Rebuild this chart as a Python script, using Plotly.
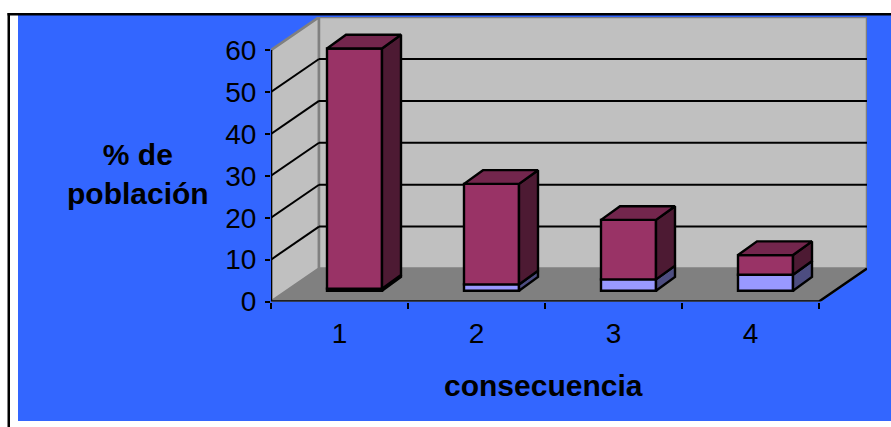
import plotly.graph_objects as go

# Survey results by consequence, stacked in two series
categories = [1, 2, 3, 4]
lower_series = [0.5, 1.5, 2.7, 3.8]
upper_series = [57.3, 24.0, 14.2, 4.7]
y_ticks = [0, 10, 20, 30, 40, 50, 60]

W, H = 891, 427

# Pixel frame of the front plane and the oblique projection of the chart box
LEFT, RIGHT_BACK, BOTTOM, TOP_BACK = 271, 867, 301.5, 17
PX_PER_CAT, PX_PER_VAL = 137.0, 4.19
x_min = 0.5
x_max = 4.5
y_max = 60
box_dx, box_dy = 48 / PX_PER_CAT, 33 / PX_PER_VAL
bar_dx, bar_dy = 19 / PX_PER_CAT, 13.7 / PX_PER_VAL
gap_dx, gap_dy = 15 / PX_PER_CAT, 10.8 / PX_PER_VAL
bar_w = 55 / PX_PER_CAT

MAROON, MAROON_SIDE, MAROON_TOP = "#993366", "#4d1a33", "#73264d"
LILAC, LILAC_SIDE = "#9999ff", "#4d4d80"
BLUE, WALL, FLOOR, EDGE = "#3366ff", "#c0c0c0", "#808080", "#808080"
OUTLINE = 2.4

fig = go.Figure()


def polygon(points):
    return "M" + " L".join(f"{x},{y}" for x, y in points) + " Z"


def wall(points, fill, edge=EDGE, width=2.5):
    return dict(type="path", path=polygon(points), xref="x", yref="y", fillcolor=fill,
                line=dict(color=edge, width=width), layer="below")


def rule(x0, y0, x1, y1, color="black", width=2):
    return dict(type="line", x0=x0, y0=y0, x1=x1, y1=y1, xref="x", yref="y",
                line=dict(color=color, width=width), layer="below")


def paper_rect(x0, y0, x1, y1, color):
    return dict(type="rect", xref="paper", yref="paper", x0=x0 / W, x1=x1 / W,
                y0=1 - y1 / H, y1=1 - y0 / H, fillcolor=color, line_width=0, layer="below")


shapes = [
    paper_rect(18, 15, W, 421, BLUE),
    paper_rect(7.5, 13, W, 15.5, "black"),
    paper_rect(7.5, 13, 10, H, "black"),
    wall([(x_min, 0), (x_max, 0), (x_max + box_dx, box_dy), (x_min + box_dx, box_dy)], FLOOR),
    wall([(x_min, 0), (x_min, y_max), (x_min + box_dx, y_max + box_dy), (x_min + box_dx, box_dy)], WALL),
    wall([(x_min + box_dx, box_dy), (x_min + box_dx, y_max + box_dy),
          (x_max + box_dx, y_max + box_dy), (x_max + box_dx, box_dy)], WALL),
]
for v in y_ticks[1:-1]:
    shapes.append(rule(x_min, v, x_min + box_dx, v + box_dy))
    shapes.append(rule(x_min + box_dx, v + box_dy, x_max + box_dx, v + box_dy))

# Front faces of both stacked series, lifted off the front edge of the floor
bar_x = [c + gap_dx for c in categories]
fig.add_bar(x=bar_x, y=lower_series, base=[gap_dy] * 4, width=bar_w,
            marker=dict(color=LILAC, line=dict(color="black", width=OUTLINE)),
            hoverinfo="skip", showlegend=False)
fig.add_bar(x=bar_x, y=upper_series, base=[gap_dy + v for v in lower_series], width=bar_w,
            marker=dict(color=MAROON, line=dict(color="black", width=OUTLINE)),
            hoverinfo="skip", showlegend=False)


def face(points, fill):
    xs, ys = zip(*points)
    fig.add_scatter(x=list(xs) + [xs[0]], y=list(ys) + [ys[0]], mode="lines", fill="toself",
                    fillcolor=fill, line=dict(color="black", width=OUTLINE), cliponaxis=False,
                    hoverinfo="skip", showlegend=False)


# Side and top faces derived from the same values as the fronts
for cx, low, up in zip(bar_x, lower_series, upper_series):
    xr = cx + bar_w / 2
    xl = cx - bar_w / 2
    y0 = gap_dy
    y1 = gap_dy + low
    y2 = y1 + up
    face([(xr, y0), (xr + bar_dx, y0 + bar_dy), (xr + bar_dx, y1 + bar_dy), (xr, y1)], LILAC_SIDE)
    face([(xr, y1), (xr + bar_dx, y1 + bar_dy), (xr + bar_dx, y2 + bar_dy), (xr, y2)], MAROON_SIDE)
    face([(xl, y2), (xr, y2), (xr + bar_dx, y2 + bar_dy), (xl + bar_dx, y2 + bar_dy)], MAROON_TOP)

# Axis lines sit on the edge of the plot area, so they are drawn unclipped
fig.add_scatter(x=[x_min, x_min, x_max, x_max + box_dx], y=[y_max, 0, 0, box_dy], mode="lines",
                line=dict(color="black", width=2.5), cliponaxis=False,
                hoverinfo="skip", showlegend=False)

FONT = "Liberation Sans"
fig.update_layout(
    width=W, height=H, autosize=False, margin=dict(l=0, r=0, t=0, b=0, pad=0, autoexpand=False),
    paper_bgcolor="white", plot_bgcolor="rgba(0,0,0,0)", barmode="overlay",
    shapes=shapes, font=dict(family=FONT, color="black"),
    xaxis=dict(domain=[LEFT / W, RIGHT_BACK / W],
               range=[x_min, x_min + (RIGHT_BACK - LEFT) / PX_PER_CAT],
               tickvals=categories, ticktext=[str(c) for c in categories],
               ticks="outside", ticklen=0, tickwidth=0, ticklabelstandoff=7,
               tickfont=dict(size=28, family=FONT),
               minor=dict(tickvals=[x_min + i for i in range(5)], ticks="outside",
                          ticklen=6, tickwidth=2, tickcolor="black"),
               showgrid=False, zeroline=False, showline=False),
    yaxis=dict(domain=[1 - BOTTOM / H, 1 - TOP_BACK / H],
               range=[0, (BOTTOM - TOP_BACK) / PX_PER_VAL],
               tickvals=y_ticks, ticks="outside", ticklen=5, tickwidth=2, tickcolor="black",
               tickfont=dict(size=28, family=FONT), ticklabelstandoff=3,
               showgrid=False, zeroline=False, showline=False),
    annotations=[
        dict(text="<b>% de<br>población</b>", xref="paper", yref="paper",
             x=138 / W, y=1 - 174 / H, xanchor="center", yanchor="middle",
             showarrow=False, align="center", font=dict(size=30, family=FONT)),
        dict(text="<b>consecuencia</b>", xref="paper", yref="paper",
             x=543 / W, y=1 - 385 / H, xanchor="center", yanchor="middle",
             showarrow=False, font=dict(size=30, family=FONT)),
    ],
)

fig.write_html("out.html", default_width=W, default_height=H,
               config=dict(responsive=False, displayModeBar=False))
